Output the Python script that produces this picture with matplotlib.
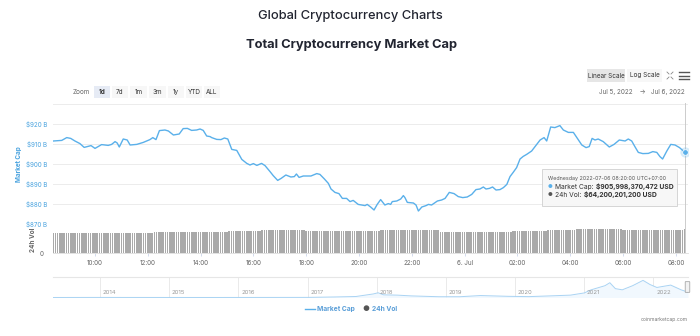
import numpy as np
import matplotlib
matplotlib.use("Agg")
import matplotlib.pyplot as plt
from matplotlib.patches import Rectangle, FancyBboxPatch

plt.rcParams['font.family'] = ['Inter', 'DejaVu Sans']

W, H = 700, 336

# Market cap (billion USD), hours counted from Jul 5 00:00 (UTC+7)
mc_hours = [8.42, 8.74, 8.93, 9.08, 9.24, 9.43, 9.59, 9.71, 9.85, 10.00,
            10.25, 10.50, 10.63, 10.76, 10.84, 10.92, 11.07, 11.22, 11.33, 11.58,
            11.83, 12.08, 12.19, 12.31, 12.44, 12.65, 12.78, 12.97, 13.19, 13.34,
            13.50, 13.66, 13.85, 13.98, 14.10, 14.23, 14.36, 14.42, 14.61, 14.77,
            14.90, 15.03, 15.18, 15.37, 15.56, 15.75, 15.87, 16.00, 16.13, 16.31,
            16.44, 16.63, 16.75, 16.92, 17.05, 17.23, 17.42, 17.55, 17.63, 17.73,
            17.89, 18.18, 18.40, 18.52, 18.69, 18.84, 18.94, 19.09, 19.24, 19.37,
            19.53, 19.66, 19.78, 19.97, 20.23, 20.31, 20.44, 20.57, 20.69, 20.82,
            20.98, 21.11, 21.20, 21.26, 21.43, 21.58, 21.68, 21.74, 21.83, 22.06,
            22.16, 22.25, 22.38, 22.54, 22.63, 22.75, 22.97, 23.13, 23.26, 23.42,
            23.60, 23.76, 23.93, 24.10, 24.27, 24.43, 24.58, 24.71, 24.81, 24.94,
            25.06, 25.19, 25.34, 25.47, 25.60, 25.72, 25.84, 25.97, 26.10, 26.22,
            26.35, 26.54, 26.67, 26.86, 27.01, 27.11, 27.26, 27.42, 27.51, 27.61,
            27.74, 27.93, 28.12, 28.27, 28.44, 28.60, 28.72, 28.83, 28.94, 29.06,
            29.25, 29.48, 29.66, 29.86, 30.08, 30.20, 30.33, 30.45, 30.58, 30.75,
            30.96, 31.13, 31.28, 31.40, 31.50, 31.66, 31.81, 31.97, 32.14, 32.33]
mc_values = [911.5, 911.8, 913.2, 912.8, 911.5, 910.2, 908.3, 908.7, 909.2, 907.8,
             909.7, 909.3, 909.8, 911.2, 910.5, 908.5, 912.5, 912.0, 909.5, 909.8,
             910.8, 912.2, 913.2, 912.2, 916.7, 917.0, 916.5, 914.5, 915.0, 917.7,
             917.8, 916.8, 917.0, 917.5, 916.8, 914.0, 913.7, 913.2, 912.3, 912.2,
             913.0, 912.5, 907.3, 906.8, 902.3, 900.3, 899.5, 900.2, 899.3, 900.3,
             899.2, 896.2, 894.2, 891.8, 892.8, 894.5, 893.5, 893.7, 895.0, 893.3,
             894.0, 894.0, 895.2, 894.8, 892.5, 890.3, 887.5, 885.8, 885.2, 882.8,
             882.8, 881.2, 881.8, 879.8, 879.2, 879.8, 878.5, 877.0, 879.8, 882.2,
             879.5, 880.2, 879.8, 881.2, 881.5, 882.5, 884.2, 883.2, 880.8, 880.5,
             879.5, 876.5, 878.5, 879.2, 879.8, 879.5, 881.5, 882.0, 882.8, 885.8,
             885.2, 883.7, 883.2, 883.5, 884.8, 887.2, 887.5, 888.5, 887.5, 887.8,
             888.5, 887.0, 887.2, 888.2, 889.8, 893.7, 895.8, 898.2, 902.5, 903.8,
             904.8, 906.5, 908.7, 912.0, 913.2, 911.5, 918.5, 918.2, 918.7, 919.2,
             917.0, 915.8, 915.8, 912.8, 909.5, 908.2, 908.7, 912.8, 912.0, 912.5,
             911.2, 908.5, 909.8, 912.0, 911.5, 912.5, 911.5, 908.7, 905.8, 905.2,
             905.3, 906.2, 905.8, 903.7, 902.5, 906.5, 909.8, 909.5, 908.2, 906.0]

# 24h volume (billion USD): 5-minute bars from 08:25 to 08:20, as runs of equal bars
vol_start = 8 + 25 / 60
vol_step = 5 / 60
vol_levels = [54.0, 55.5, 57.3, 58.0, 59.0, 62.8, 60.0, 62.8, 57.3, 60.0, 62.8, 65.6, 62.8, 63.6, 64.2]
vol_runs = [43, 3, 11, 23, 15, 20, 34, 27, 33, 16, 13, 21, 14, 14, 1]

x_ticks = [10, 12, 14, 16, 18, 20, 22, 24, 26, 28, 30, 32]
x_labels = ['10:00', '12:00', '14:00', '16:00', '18:00', '20:00', '22:00',
            '6. Jul', '02:00', '04:00', '06:00', '08:00']
y_ticks = [870, 880, 890, 900, 910, 920]
y_labels = ['$870 B', '$880 B', '$890 B', '$900 B', '$910 B', '$920 B']

# navigator: full history of total market cap (trillion USD)
nav_years = [2013.32, 2013.9, 2014.1, 2014.5, 2015.0, 2015.5, 2016.0, 2016.5, 2017.0,
             2017.4, 2017.7, 2017.95, 2018.02, 2018.1, 2018.3, 2018.5, 2018.9, 2019.2,
             2019.5, 2019.9, 2020.2, 2020.5, 2020.8, 2021.0, 2021.1, 2021.3, 2021.37,
             2021.45, 2021.55, 2021.7, 2021.85, 2021.95, 2022.05, 2022.25, 2022.4, 2022.5]
nav_values = [0.002, 0.013, 0.010, 0.009, 0.005, 0.004, 0.007, 0.012, 0.018,
              0.09, 0.17, 0.6, 0.8, 0.45, 0.4, 0.27, 0.13, 0.13,
              0.33, 0.2, 0.15, 0.27, 0.4, 0.77, 1.3, 2.0, 2.5,
              1.5, 1.3, 2.0, 2.9, 2.2, 1.7, 2.1, 1.3, 0.9]

blue = '#5ab0ea'
label_blue = '#4aa3df'
grid_c = '#ececec'


def hours_at(px):
    return 10 + (px - 95) / 26.4


def add_axes_px(x0, y0, x1, y1):
    return fig.add_axes([x0 / W, 1 - y1 / H, (x1 - x0) / W, (y1 - y0) / H])


fig = plt.figure(figsize=(7, 3.36), dpi=100)

# ---- main market cap pane
ax = add_axes_px(53, 103, 688, 224)
ax.set_xlim(hours_at(53), hours_at(688))
ax.set_ylim(870, 930.5)
for v in y_ticks + [930]:
    ax.axhline(v, color=grid_c, lw=0.7, zorder=0)
ax.plot(mc_hours, mc_values, color=blue, lw=1.0, zorder=3)
ax.scatter([mc_hours[-1]], [mc_values[-1]], s=55, color=blue, alpha=0.25, lw=0, zorder=4)
ax.scatter([mc_hours[-1]], [mc_values[-1]], s=16, color=blue, edgecolor='white', lw=0.5, zorder=5)
ax.axvline(mc_hours[-1], color='#cccccc', lw=0.7, zorder=1)
ax.set_yticks(y_ticks)
ax.set_yticklabels(y_labels, color=label_blue, fontsize=4.5)
ax.tick_params(axis='y', length=0, pad=4.3)
ax.set_xticks([])
for s in ax.spines.values():
    s.set_visible(False)
ax.patch.set_alpha(0)

# ---- volume pane
axv = add_axes_px(53, 224, 688, 253)
axv.set_xlim(hours_at(53), hours_at(688))
axv.set_ylim(0, 79.2)
vol = np.repeat(vol_levels, vol_runs)
vol_t = vol_start + vol_step * np.arange(len(vol))
axv.bar(vol_t, vol, width=vol_step * 0.7, color='#a9a9a9', lw=0, zorder=2)
axv.axvline(mc_hours[-1], color='#cccccc', lw=0.7, zorder=1)
axv.set_xticks(x_ticks)
axv.set_xticklabels(x_labels, fontsize=4.5, color='#666666')
axv.tick_params(axis='x', length=2.2, width=0.6, color='#ccd6eb', pad=2.5)
axv.set_yticks([0])
axv.set_yticklabels(['0'], fontsize=4.5, color='#666666')
axv.tick_params(axis='y', length=0, pad=7)
for s in ['top', 'left', 'right']:
    axv.spines[s].set_visible(False)
axv.spines['bottom'].set_color('#dddddd')
axv.spines['bottom'].set_linewidth(0.6)
axv.patch.set_alpha(0)

# ---- navigator
axn = add_axes_px(53, 277, 688, 297.5)
axn.set_xlim(2013.32, 2022.5)
axn.set_ylim(0, 3.47)
axn.fill_between(nav_years, nav_values, color='#f1f8fe', lw=0)
axn.plot(nav_years, nav_values, color='#a9d3f3', lw=0.7)
for yr in range(2014, 2023):
    axn.axvline(yr, color='#e6e6e6', lw=0.6, zorder=0)
    axn.text(yr + 0.04, 0.35, str(yr), fontsize=4.3, color='#999999', va='bottom', ha='left')
axn.set_xticks([])
axn.set_yticks([])
for s in ['left', 'right', 'bottom']:
    axn.spines[s].set_visible(False)
axn.spines['top'].set_color('#e6e6e6')
axn.spines['top'].set_linewidth(0.8)
axn.patch.set_alpha(0)

# ---- overlay for titles, buttons, tooltip, legend (pixel coordinates)
ov = fig.add_axes([0, 0, 1, 1])
ov.set_xlim(0, W)
ov.set_ylim(H, 0)
ov.axis('off')
ov.patch.set_alpha(0)

ov.text(350, 16, 'Global Cryptocurrency Charts', ha='center', va='center',
        fontsize=9.3, color='#222531', fontweight='medium')
ov.text(352, 45, 'Total Cryptocurrency Market Cap', ha='center', va='center',
        fontsize=9.3, color='#222531', fontweight='bold')

# range selector buttons
ov.text(81, 92, 'Zoom', ha='center', va='center', fontsize=4.6, color='#666666')
buttons = [('1d', 94, 110), ('7d', 112, 128), ('1m', 130, 147), ('3m', 149, 166),
           ('1y', 168, 184), ('YTD', 186, 202), ('ALL', 204, 220)]
for i, (lab, x0, x1) in enumerate(buttons):
    fc = '#e6ebf5' if i == 0 else '#f7f7f7'
    ov.add_patch(Rectangle((x0, 86), x1 - x0, 12, fc=fc, ec='none'))
    ov.text((x0 + x1) / 2, 92, lab, ha='center', va='center', fontsize=4.6,
            color='#333333', fontweight='bold' if i == 0 else 'normal')

ov.add_patch(Rectangle((587, 69), 38, 13, fc='#e6e6e6', ec='none'))
ov.text(606, 75.5, 'Linear Scale', ha='center', va='center', fontsize=4.6, color='#333333')
ov.add_patch(Rectangle((627, 69), 35, 13, fc='#f7f7f7', ec='none'))
ov.text(644.5, 75.5, 'Log Scale', ha='center', va='center', fontsize=4.6, color='#333333')
# expand icon
for cx, cy, dx, dy in [(667, 72, 1, 1), (673, 72, -1, 1), (667, 79, 1, -1), (673, 79, -1, -1)]:
    ov.plot([cx, cx + 2 * dx], [cy, cy + 2 * dy], color='#888888', lw=0.6)
# menu icon
for yy in [72, 75.5, 79]:
    ov.plot([679, 689], [yy, yy], color='#555555', lw=1.0)

ov.text(685, 92, 'Jul 5, 2022    \u2192   Jul 6, 2022', ha='right', va='center',
        fontsize=4.6, color='#666666')

# axis titles
ov.text(19, 164, 'Market Cap', rotation=90, ha='center', va='center', fontsize=4.6,
        color=label_blue, fontweight='bold')
ov.text(33, 240, '24h Vol', rotation=90, ha='center', va='center', fontsize=4.6,
        color='#666666', fontweight='bold')

# tooltip
ov.add_patch(Rectangle((542, 169), 135, 37, fc='#f7f7f7', ec='#cccccc', lw=0.6, alpha=0.92))
ov.text(548, 178.5, 'Wednesday 2022-07-06 08:20:00 UTC+07:00', fontsize=3.8,
        color='#555555', va='center')
ov.text(548, 187, '\u25cf', fontsize=3.8, color=blue, va='center')
ov.text(555, 187, 'Market Cap:', fontsize=4.8, color='#333333', va='center')
ov.text(596, 187, '$905,998,370,472 USD', fontsize=4.8, color='#333333', va='center',
        fontweight='bold')
ov.text(548, 195, '\u25cf', fontsize=3.8, color='#555555', va='center')
ov.text(555, 195, '24h Vol:', fontsize=4.8, color='#333333', va='center')
ov.text(584, 195, '$64,200,201,200 USD', fontsize=4.8, color='#333333', va='center',
        fontweight='bold')

# navigator handle
ov.add_patch(FancyBboxPatch((685.5, 282), 4, 10, boxstyle='round,pad=0.3',
                            fc='#f2f2f2', ec='#999999', lw=0.5))

# legend
ov.plot([305, 315], [309, 309], color=blue, lw=1.0)
ov.text(317, 309, 'Market Cap', fontsize=4.8, color='#5b9fd8', va='center', fontweight='bold')
ov.text(362, 309, '\u25cf', fontsize=5.5, color='#555555', va='center')
ov.text(372, 309, '24h Vol', fontsize=4.8, color='#5b9fd8', va='center', fontweight='bold')

ov.text(688, 320, 'coinmarketcap.com', fontsize=3.6, color='#777777', ha='right', va='center')

fig.savefig('out.png', dpi=100)
